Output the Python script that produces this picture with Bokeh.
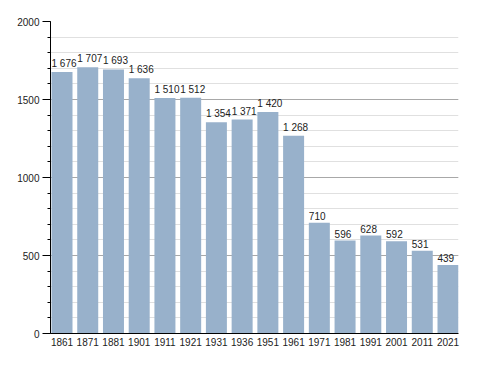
from bokeh.plotting import figure
from bokeh.models import ColumnDataSource, Range1d, FixedTicker, SingleIntervalTicker
from bokeh.core.properties import value
from bokeh.embed import file_html
from bokeh.resources import INLINE

years = ["1861", "1871", "1881", "1901", "1911", "1921", "1931", "1936",
         "1951", "1961", "1971", "1981", "1991", "2001", "2011", "2021"]
population = [1676, 1707, 1693, 1636, 1510, 1512, 1354, 1371,
              1420, 1268, 710, 596, 628, 592, 531, 439]

bar_w = 0.816
idx = list(range(len(years)))
labels = [f"{v:,}".replace(",", " ") for v in population]

src = ColumnDataSource(dict(x=idx, top=population, lbl=labels,
                            lx=[i - bar_w / 2 for i in idx]))

p = figure(width=480, height=365, output_backend="svg", toolbar_location=None,
           x_range=Range1d(-0.447, 15.408), y_range=Range1d(0, 2000),
           min_border_left=50, min_border_top=21, min_border_bottom=32,
           min_border_right=22)
p.outline_line_color = None
p.background_fill_color = "white"
p.border_fill_color = "white"

p.vbar(x="x", top="top", width=bar_w, source=src, color="#98b1cb", line_color=None)
p.text(x="lx", y="top", text="lbl", source=src, text_align="left",
       text_baseline="bottom", y_offset=-3, text_font_size="10px",
       text_font=value("Liberation Sans"), text_color="#222222")

p.xgrid.grid_line_color = None
p.ygrid.grid_line_color = "#a8a8a8"
p.ygrid.minor_grid_line_color = "#e0e0e0"

p.yaxis.ticker = SingleIntervalTicker(interval=500, num_minor_ticks=5)
p.ygrid.ticker = p.yaxis.ticker
p.yaxis.axis_line_color = "black"
p.yaxis.major_tick_line_color = "black"
p.yaxis.minor_tick_line_color = "black"
p.yaxis.major_tick_out = 8
p.yaxis.major_tick_in = 0
p.yaxis.minor_tick_out = 3
p.yaxis.minor_tick_in = 0
p.yaxis.major_label_standoff = 3
p.yaxis.major_label_text_font = "Liberation Sans"
p.yaxis.major_label_text_font_size = "10px"
p.yaxis.major_label_text_color = "#222222"

p.xaxis.ticker = FixedTicker(ticks=idx)
p.xaxis.major_label_overrides = {i: y for i, y in enumerate(years)}
p.xaxis.axis_line_color = "black"
p.xaxis.major_tick_line_color = None
p.xaxis.minor_tick_line_color = None
p.xaxis.major_tick_out = 0
p.xaxis.major_tick_in = 0
p.xaxis.major_label_standoff = 4
p.xaxis.major_label_text_font = "Liberation Sans"
p.xaxis.major_label_text_font_size = "10px"
p.xaxis.major_label_text_color = "#222222"

open("out.html", "w").write(file_html(p, INLINE))
